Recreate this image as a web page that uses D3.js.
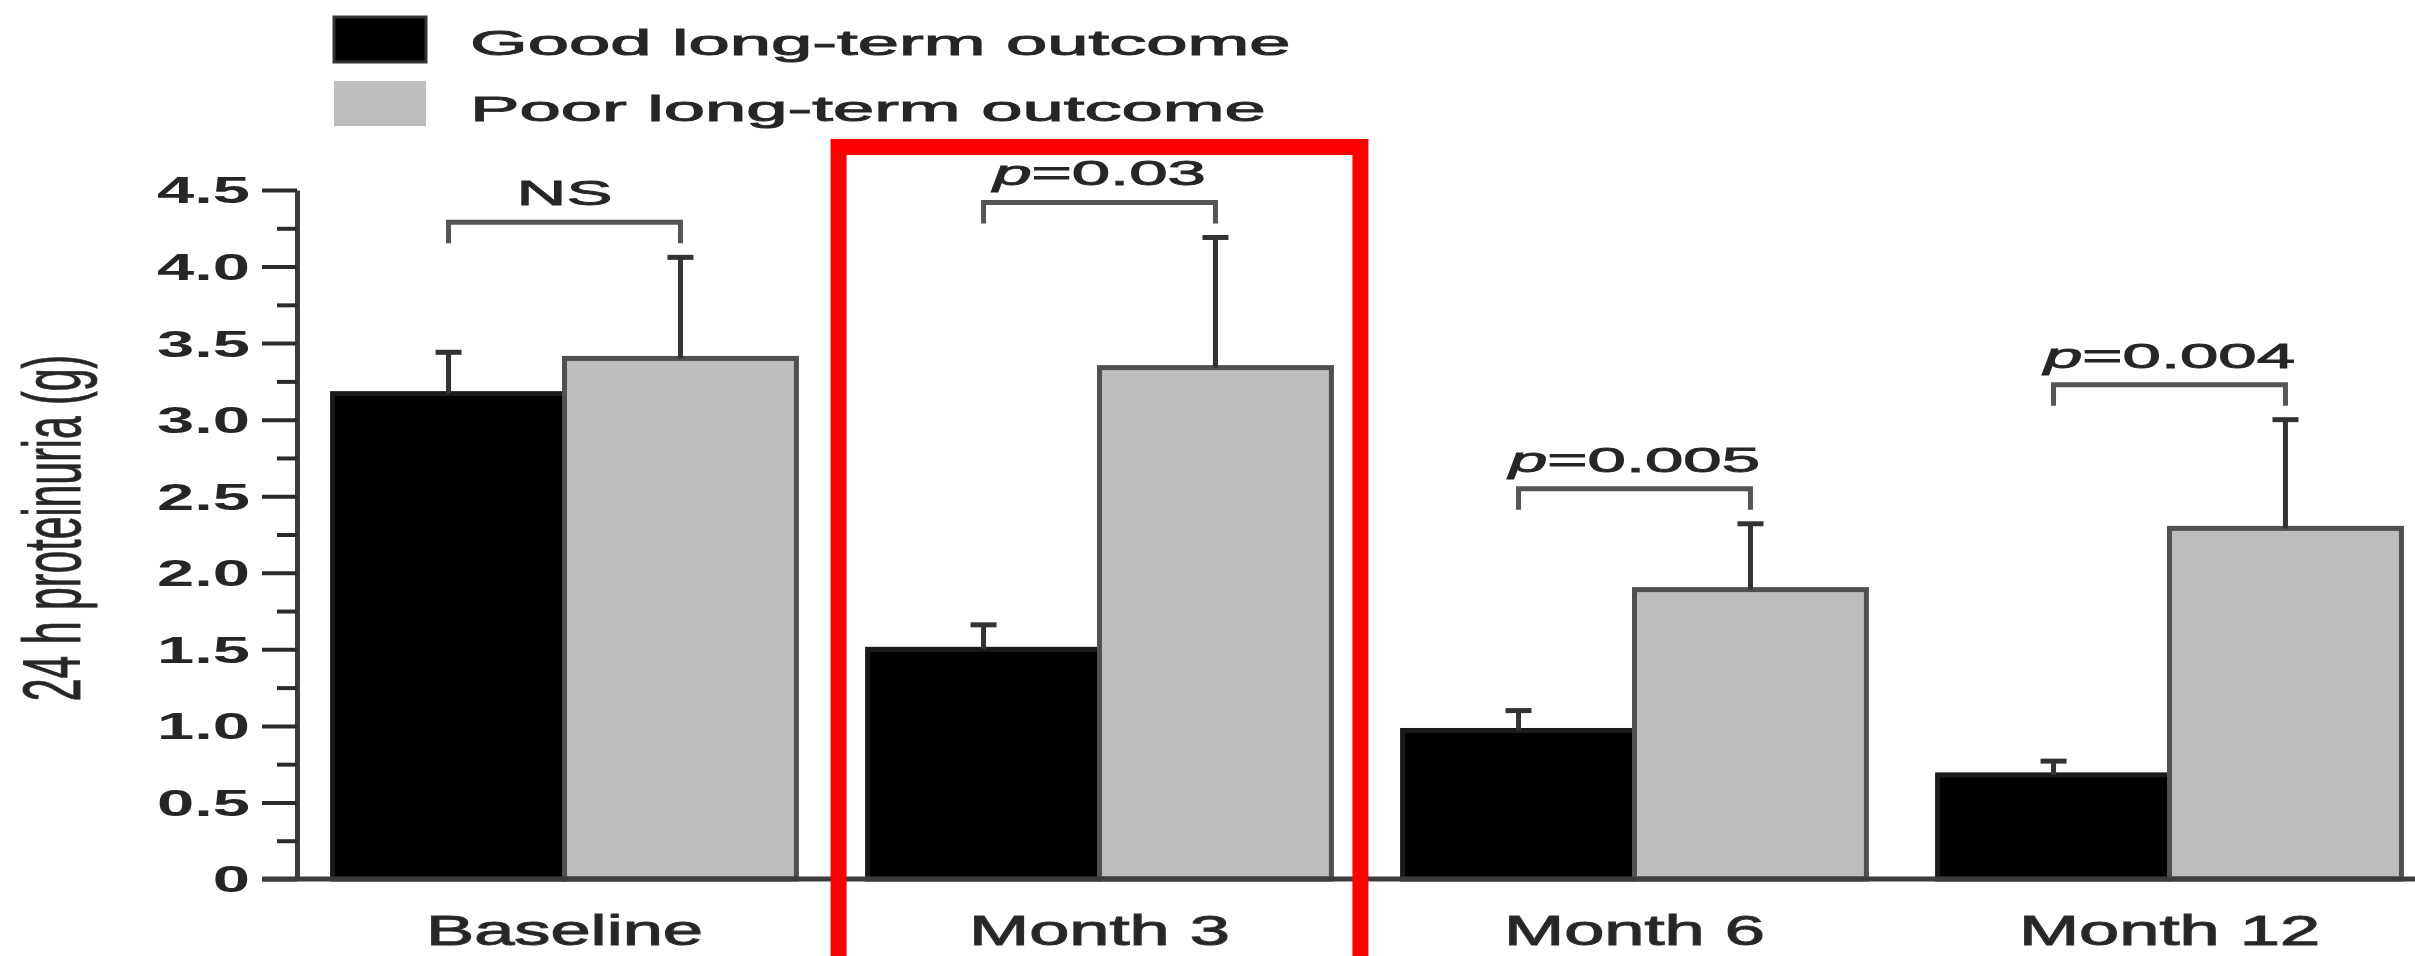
<!DOCTYPE html>
<html>
<head>
<meta charset="utf-8">
<script src="https://cdn.jsdelivr.net/npm/d3@7"></script>
<style>
  html, body { margin: 0; padding: 0; background: #ffffff; }
  svg { display: block; }
  text { font-family: "Liberation Sans", Arial, Helvetica, sans-serif; fill: #262626; }
</style>
</head>
<body>
<script>
// 24 h proteinuria by follow-up visit, split by long-term outcome (mean + SD)
const categories = ["Baseline", "Month 3", "Month 6", "Month 12"];
const seriesKeys = ["good", "poor"];
const seriesNames = ["Good long-term outcome", "Poor long-term outcome"];
const goodMean = [3.17, 1.50, 0.97, 0.68];
const goodErr  = [0.27, 0.16, 0.13, 0.09];
const poorMean = [3.40, 3.34, 1.89, 2.29];
const poorErr  = [0.66, 0.85, 0.43, 0.71];
const sigLabels = [
  { p: false, text: "NS" },
  { p: true,  text: "=0.03" },
  { p: true,  text: "=0.005" },
  { p: true,  text: "=0.004" }
];
const yTicks = [0, 0.5, 1.0, 1.5, 2.0, 2.5, 3.0, 3.5, 4.0, 4.5];
const yMinorTicks = [0.25, 0.75, 1.25, 1.75, 2.25, 2.75, 3.25, 3.75, 4.25];
const yTitle = "24 h proteinuria (g)";
const highlighted = "Month 3";

const W = 2415, H = 956;
const colors = { good: "#000000", poor: "#bdbdbd" };
const ink = "#3c3c3c";

const rows = categories.map((c, i) => ({
  cat: c,
  good: goodMean[i], goodErr: goodErr[i],
  poor: poorMean[i], poorErr: poorErr[i],
  sig: sigLabels[i]
}));

const svg = d3.select("body").append("svg").attr("width", W).attr("height", H);

const y = d3.scaleLinear().domain([0, 4.5]).range([879, 190]);
const x0 = d3.scaleBand().domain(categories).range([297, 2437])
  .paddingInner(0.133).paddingOuter(0.0665);
const x1 = d3.scaleBand().domain(seriesKeys).range([0, x0.bandwidth()]);

// stretched text helper: anchor point, horizontal stretch, slightly heavier strokes
function stretched(sel, x, yy, sx) {
  return sel.attr("transform", `translate(${x},${yy}) scale(${sx},1)`)
    .attr("stroke", "#262626").attr("stroke-width", 0.9);
}

// bars
const groups = svg.append("g").selectAll("g").data(rows).join("g")
  .attr("transform", d => `translate(${x0(d.cat)},0)`);

groups.selectAll("rect").data(d => seriesKeys.map(k => ({ k, v: d[k] })))
  .join("rect")
  .attr("x", d => x1(d.k))
  .attr("y", d => y(d.v))
  .attr("width", x1.bandwidth())
  .attr("height", d => y(0) - y(d.v))
  .attr("fill", d => colors[d.k])
  .attr("stroke", d => d.k === "good" ? "#1a1a1a" : "#505050")
  .attr("stroke-width", 5);

// error bars (upper whisker only)
const capHalf = 13;
groups.each(function (d) {
  const g = d3.select(this);
  seriesKeys.forEach(k => {
    const cx = x1(k) + x1.bandwidth() / 2;
    const top = y(d[k] + d[k + "Err"]);
    g.append("line").attr("x1", cx).attr("x2", cx)
      .attr("y1", y(d[k])).attr("y2", top)
      .attr("stroke", "#333").attr("stroke-width", 5);
    g.append("line").attr("x1", cx - capHalf).attr("x2", cx + capHalf)
      .attr("y1", top).attr("y2", top)
      .attr("stroke", "#333").attr("stroke-width", 5);
  });

  // significance bracket between the two bars
  const hi = Math.max(d.good + d.goodErr, d.poor + d.poorErr);
  const by = y(hi) - 35;
  const lx = x1("good") + x1.bandwidth() / 2;
  const rx = x1("poor") + x1.bandwidth() / 2;
  g.append("path")
    .attr("d", `M${lx},${by + 21}V${by}H${rx}V${by + 21}`)
    .attr("fill", "none").attr("stroke", "#555").attr("stroke-width", 5);

  const t = stretched(g.append("text"), (lx + rx) / 2, by - 17, 1.97)
    .attr("text-anchor", "middle").attr("font-size", 35);
  if (d.sig.p) t.append("tspan").attr("font-style", "italic").text("p");
  t.append("tspan").text(d.sig.text);
});

// y axis
const yAxis = svg.append("g").attr("transform", `translate(${297},0)`)
  .call(d3.axisLeft(y).tickValues(yTicks).tickSize(35).tickSizeOuter(0)
    .tickFormat(v => v === 0 ? "0" : d3.format(".1f")(v)));
yAxis.select(".domain").attr("stroke", ink).attr("stroke-width", 5);
yAxis.selectAll(".tick line").attr("stroke", "#2a2a2a").attr("stroke-width", 4);
yAxis.selectAll(".tick text")
  .attr("x", null).attr("dy", "0.36em")
  .attr("transform", "translate(-47,0) scale(1.86,1)")
  .attr("text-anchor", "end").attr("font-size", 36).attr("font-weight", "bold")
  .attr("fill", "#333");

const yMinor = svg.append("g").attr("transform", `translate(${297},0)`)
  .call(d3.axisLeft(y).tickValues(yMinorTicks).tickSize(20).tickSizeOuter(0).tickFormat(""));
yMinor.select(".domain").remove();
yMinor.selectAll(".tick line").attr("stroke", "#2a2a2a").attr("stroke-width", 4);

// x axis
const xAxis = svg.append("g").attr("transform", `translate(0,${y(0)})`)
  .call(d3.axisBottom(x0).tickSize(0).tickSizeOuter(0));
xAxis.select(".domain").remove();
xAxis.append("line").attr("x1", 262).attr("x2", W).attr("y1", 0).attr("y2", 0)
  .attr("stroke", ink).attr("stroke-width", 5);
xAxis.selectAll(".tick text")
  .attr("y", null).attr("dy", null)
  .attr("transform", "translate(0,66) scale(1.72,1)")
  .attr("font-size", 42).attr("fill", "#2e2e2e")
  .attr("stroke", "#2e2e2e").attr("stroke-width", 1);

// y axis title
svg.append("text")
  .attr("transform", "translate(80,528) scale(2,1) rotate(-90)")
  .attr("text-anchor", "middle").attr("font-size", 41).attr("fill", "#2e2e2e")
  .attr("stroke", "#2e2e2e").attr("stroke-width", 0.5)
  .text(yTitle);

// legend
const legend = svg.append("g");
seriesKeys.forEach((k, i) => {
  const ly = i === 0 ? 17 : 81;
  legend.append("rect").attr("x", 334).attr("y", ly).attr("width", 92).attr("height", 45)
    .attr("fill", colors[k])
    .attr("stroke", k === "good" ? "#333" : "none").attr("stroke-width", 3);
  stretched(legend.append("text"), 470, i === 0 ? 55 : 121, 2.12)
    .attr("font-size", 35).attr("fill", "#222").text(seriesNames[i]);
});

// highlight frame around one visit
svg.append("rect")
  .attr("x", x0(highlighted) - 29).attr("y", 147)
  .attr("width", x0.bandwidth() + 58).attr("height", H)
  .attr("fill", "none").attr("stroke", "#ff0000").attr("stroke-width", 16);
</script>
</body>
</html>
